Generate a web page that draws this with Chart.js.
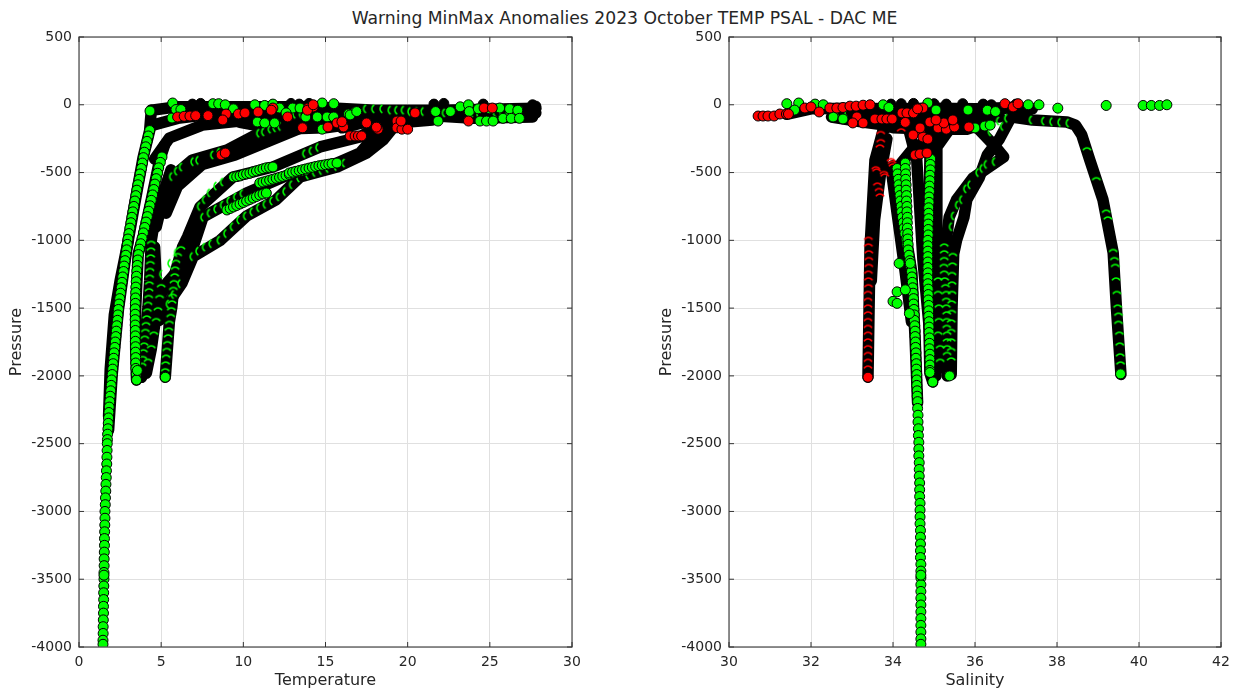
<!DOCTYPE html>
<html>
<head>
<meta charset="utf-8">
<title>Warning MinMax Anomalies</title>
<script src="https://cdn.jsdelivr.net/npm/chart.js@4"></script>
<style>
  html, body { margin: 0; padding: 0; background: #fff; width: 1233px; height: 690px; overflow: hidden; }
  #titulo { position: absolute; left: 0; top: 8px; width: 1249px; text-align: center; font: 17.2px "DejaVu Sans"; color: #262626; }
  canvas { position: absolute; top: 0; }
  #graficoTemp { left: 0; }
  #graficoPsal { left: 650px; }
</style>
</head>
<body>
<div id="titulo">Warning MinMax Anomalies 2023 October TEMP PSAL - DAC ME</div>
<canvas id="graficoTemp" width="600" height="690"></canvas>
<canvas id="graficoPsal" width="583" height="690"></canvas>
<script>
const tempTicks = [0, 5, 10, 15, 20, 25, 30]
const psalTicks = [30, 32, 34, 36, 38, 40, 42]
const presTicks = [500, 0, -500, -1000, -1500, -2000, -2500, -3000, -3500, -4000]

// temperature: black profile bands [T, P]
const tempDeep = [[4.4,-40],[4.3,-190],[3.9,-390],[3.3,-790],[2.9,-1070],[2.4,-1510],[2.02,-1990],[1.8,-2400]]
const tempDeep2 = [[3.0,-1000],[2.5,-1300],[2.15,-1550],[1.9,-1950],[1.8,-2300]]
const tempBand2 = [[5.2,-300],[4.9,-410],[4.4,-700],[3.9,-975],[3.6,-1100],[3.45,-1500],[3.45,-1800],[3.5,-2030]]
const tempBand3 = [[5.6,-480],[5.0,-700],[4.6,-850],[4.4,-1000],[4.3,-1300],[4.2,-1490],[4.0,-1750],[3.8,-2010]]
const tempBand3b = [[4.6,-1050],[4.7,-1300],[4.75,-1500],[4.4,-1800],[4.1,-1980]]
const tempC1 = [[4.7,-900],[5.1,-700],[5.7,-530],[6.9,-407],[9.0,-334],[11,-208],[13,-134],[15.1,-90]]
const tempC1b = [[5.3,-800],[6.0,-600],[7.5,-440],[9.5,-370],[11.5,-270],[13.5,-170],[15.5,-120]]
const tempC2 = [[5.25,-2010],[5.5,-1600],[5.65,-1490],[5.85,-1240],[6.3,-1050],[6.6,-975],[7.36,-754],[9.37,-533],[11.8,-459],[14.67,-311],[17.1,-238],[18.5,-130],[20,-90]]
const tempC3 = [[3.8,-2010],[4.5,-1515],[5.35,-1315],[6.75,-1120],[7.55,-828],[10.2,-651],[13,-503],[15.7,-430],[17.1,-356],[18,-230],[19,-120]]
const tempC5 = [[4.9,-1590],[5.35,-1480],[6.27,-1315],[6.95,-1120],[8.6,-1000],[10.2,-820],[12,-700],[13.45,-533],[15.7,-459],[17.5,-356],[18.5,-260],[19.35,-134],[21.5,-112]]
const tempTop1 = [[4.4,-40],[6,-15],[10,-15],[14,-15],[18,-40],[22,-40],[27.8,-25]]
const tempTop2 = [[4.6,-400],[5.5,-245],[7.5,-150],[9.8,-120],[12,-110],[15,-80]]
const tempTop3 = [[4.5,-150],[6,-100],[8,-70],[12,-60],[16,-50],[20,-70],[24,-100],[27.6,-90]]
const tempTop4 = [[16,-170],[18,-110],[20,-80],[23,-70],[27.8,-60]]
const tempTop5 = [[9.8,-130],[12,-180],[15,-170],[18,-120]]
const tempTop6 = [[10,-80],[14,-110],[17,-100],[20,-110]]

// temperature: green chains, shallow to deep
const tempChainA = [[4.3,-190],[4.22,-230],[4.14,-270],[4.06,-310],[3.98,-350],[3.92,-390],[3.86,-430],[3.8,-470],[3.72,-510],[3.66,-550],[3.58,-590],[3.52,-630],[3.46,-670],[3.4,-710],[3.34,-750],[3.28,-790],[3.22,-830],[3.16,-870],[3.1,-910],[3.04,-950],[2.98,-990],[2.94,-1030],[2.9,-1070],[2.85,-1110],[2.8,-1150],[2.75,-1190],[2.71,-1230],[2.66,-1270],[2.62,-1310],[2.57,-1350],[2.53,-1390],[2.48,-1430],[2.44,-1470],[2.4,-1510],[2.37,-1550],[2.34,-1590],[2.3,-1630],[2.27,-1670],[2.24,-1710],[2.21,-1750],[2.18,-1790],[2.14,-1830],[2.11,-1870],[2.08,-1910],[2.05,-1950],[2.02,-1990],[1.99,-2030],[1.96,-2070],[1.93,-2110],[1.9,-2150],[1.87,-2190],[1.84,-2230],[1.82,-2270],[1.8,-2310],[1.78,-2350],[1.76,-2390],[1.74,-2430],[1.73,-2470]]
const tempChainDeep = [[1.72,-2500],[1.71,-2550],[1.7,-2600],[1.69,-2650],[1.67,-2700],[1.66,-2750],[1.64,-2800],[1.63,-2850],[1.61,-2900],[1.6,-2950],[1.58,-3000],[1.58,-3050],[1.57,-3100],[1.56,-3150],[1.55,-3200],[1.55,-3250],[1.54,-3300],[1.53,-3350],[1.53,-3400],[1.52,-3450],[1.52,-3500],[1.51,-3550],[1.5,-3600],[1.5,-3650],[1.49,-3700],[1.49,-3750],[1.48,-3800],[1.47,-3850],[1.47,-3900],[1.46,-3950]]
const tempChainB = [[5.05,-385],[4.95,-425],[4.85,-465],[4.78,-505],[4.7,-545],[4.62,-585],[4.55,-625],[4.48,-665],[4.4,-705],[4.32,-745],[4.24,-785],[4.16,-825],[4.08,-865],[4.0,-905],[3.92,-945],[3.84,-985],[3.76,-1025],[3.68,-1065],[3.62,-1105],[3.58,-1145],[3.55,-1185],[3.52,-1225],[3.5,-1265],[3.48,-1305],[3.46,-1345],[3.45,-1385],[3.44,-1425],[3.43,-1465],[3.42,-1505],[3.42,-1545],[3.42,-1585],[3.42,-1625],[3.43,-1665],[3.43,-1705],[3.43,-1745],[3.44,-1785],[3.44,-1825],[3.45,-1865],[3.45,-1905],[3.46,-1945],[3.48,-1985],[3.5,-2030]]
const tempChainC = [[9.4,-533],[9.6,-530],[9.8,-525],[10,-515],[10.2,-510],[10.4,-505],[10.6,-495],[10.8,-488],[11,-480],[11.2,-472],[11.4,-465],[11.6,-462],[11.8,-459]]
const tempChainD = [[11,-577],[11.2,-570],[11.4,-563],[11.6,-556],[11.8,-549],[12,-542],[12.2,-535],[12.4,-528],[12.6,-521],[12.8,-514],[13,-507],[13.2,-500],[13.4,-494],[13.6,-488],[13.8,-483]]
const tempChainE = [[9,-776],[9.2,-765],[9.4,-754],[9.6,-743],[9.8,-732],[10,-721],[10.2,-710],[10.4,-699],[10.6,-688],[10.8,-677],[11,-666],[11.2,-658],[11.4,-651]]
const tempChainF = [[12.8,-503],[13,-497],[13.2,-491],[13.4,-485],[13.6,-479],[13.8,-473],[14,-467],[14.2,-461],[14.4,-455],[14.6,-450],[14.8,-446],[15,-442],[15.2,-438],[15.4,-434],[15.7,-430]]
const tempDots = [[4.32,-46],[5.7,13],[5.66,-98],[5.9,-35],[6.2,-35],[8.15,8],[8.5,8],[8.9,0],[10.7,0],[11.3,-5],[11.8,5],[10.85,-127],[11.3,-134],[11.9,-134],[12.2,-24],[13,-24],[13.45,-24],[14.8,13],[15.5,8],[14.5,-90],[15.1,-90],[15.5,-90],[16.4,-68],[16.8,-53],[21.85,-120],[21.7,-50],[23.2,-15],[23.7,0],[23.75,-50],[24.4,-120],[24.8,-120],[25.2,-120],[26.2,-30],[25.6,-24],[14.8,-180],[16.5,-75],[16.9,-50],[13.8,-90],[12.6,-60],[9.4,-30],[22.6,-50],[24.3,-30],[25,-30],[26.7,-40],[25.8,-100],[26.3,-100],[26.8,-100]]
const tempEnds = [[1.52,-3470],[1.46,-3980],[3.5,-2030],[3.55,-1960],[5.25,-2010]]
const tempBlackDots = [[7.4,10],[12.9,10],[14,10],[13.4,5],[22.2,10],[21.6,5],[27.8,-10],[27.8,-30],[27.6,0],[24.6,5],[6.9,5]]

// temperature: thin green arcs seen inside the black bands
const tempArcsDown = [[4.4,-1030],[4.38,-1080],[4.36,-1130],[4.34,-1180],[4.32,-1230],[4.3,-1280],[4.28,-1330],[4.26,-1380],[4.24,-1430],[4.2,-1480],[4.16,-1530],[4.12,-1580],[4.08,-1630],[4.04,-1680],[4.0,-1730],[3.96,-1780],[3.92,-1830],[3.88,-1880],[3.84,-1930],
  [6.2,-1070],[6.0,-1120],[5.9,-1170],[5.85,-1220],[5.82,-1270],[5.78,-1320],[5.74,-1370],[5.7,-1420],[5.66,-1470],[5.62,-1520],[5.58,-1570],[5.5,-1620],[5.46,-1670],[5.42,-1720],[5.38,-1770],[5.34,-1820],[5.3,-1870],[5.27,-1920],[5.25,-1970],
  [5.0,-1350],[4.9,-1430],[4.8,-1520],[4.7,-1600],[4.55,-1700],[4.4,-1800],[4.2,-1900]]
const tempArcsSide = [[5.7,-530],[6.0,-490],[6.3,-460],[7.0,-420],[7.3,-410],[8.2,-370],[8.6,-350],[11.0,-210],[11.3,-200],[11.7,-180],[12.0,-170],[12.3,-160],
  [7.4,-750],[7.7,-700],[8.0,-650],[8.4,-600],[8.8,-570],[13.8,-360],[14.2,-340],[14.6,-315],
  [7.6,-830],[8.0,-800],[8.4,-770],[8.8,-740],[9.2,-710],[9.6,-680],[10.0,-655],
  [6.95,-1120],[7.3,-1080],[7.7,-1050],[8.1,-1025],[8.6,-1000],[9.0,-950],[9.4,-900],[9.8,-850],[10.2,-820],[10.6,-790],[11.0,-760],[11.4,-735],[11.8,-710],[12.2,-680],[12.6,-640],[13,-590],[13.45,-540],[14,-520],[14.4,-500],[14.8,-485],[15.2,-470],[15.7,-455],[16.2,-430],
  [5.5,-1470],[5.8,-1400],[6.2,-1320],[5.1,-1250],[5.6,-1170],[6.0,-1090],
  [12.8,-80],[13.2,-70],[13.6,-70],[14,-75],[17.5,-30],[18,-30],[18.5,-30],[19,-40],[19.4,-40],[19.8,-40],[20.2,-50],[20.6,-50],[21,-50],[22.3,-60],[24,-60],[24.4,-70],[25.4,-60],[25.8,-60],[26.2,-60],[26.6,-60],[27,-50]]
const tempReds = [[6.0,-90],[6.4,-85],[6.75,-83],[7.1,-80],[7.85,-80],[8.95,-68],[8.75,-112],[9.7,-68],[10.1,-60],[10.9,-53],[11.8,-24],[11.7,-40],[12.7,-90],[13.6,-170],[13.95,-24],[14.25,-16],[13.9,-40],[14.25,0],[15.15,-164],[15.7,-134],[16.1,-164],[16.0,-125],[16.5,-230],[16.8,-230],[17,-230],[17.2,-230],[8.65,-370],[8.9,-356],[17.5,-134],[18.2,-180],[18.1,-165],[19.35,-120],[19.35,-170],[19.65,-180],[20,-180],[19.6,-120],[20.45,-60],[23.7,-120],[24.65,-24],[25.15,-24]]

// salinity: black profile bands [S, P]
const psalDeep = [[34.0,-450],[34.2,-800],[34.37,-1071],[34.46,-1240],[34.54,-1735],[34.6,-2200]]
const psalDeep2 = [[33.95,-460],[34.1,-800],[34.3,-1240],[34.45,-1600]]
const psalBandA = [[34.9,-150],[34.9,-407],[34.85,-1240],[34.9,-1978],[34.97,-2045]]
const psalBandD = [[34.4,-200],[34.58,-410],[34.73,-1145],[34.9,-1700],[35.05,-2000]]
const psalBandE = [[35.4,-170],[35.07,-310],[35.07,-1240],[35.1,-1950]]
const psalBandC = [[35.9,-120],[36.5,-310],[36.7,-385],[35.95,-540],[35.55,-700],[35.37,-830],[35.3,-1000],[35.25,-1240],[35.3,-1490],[35.32,-2000]]
const psalBandC2 = [[36.9,-80],[36.6,-250],[36.3,-370],[36.1,-540],[35.8,-700],[35.73,-830],[35.55,-1000],[35.48,-1100],[35.44,-1490],[35.42,-1990]]
const psalRed = [[34.1,-120],[33.76,-186],[33.56,-410],[33.44,-1050],[33.39,-2010]]
const psalRed2 = [[33.85,-250],[33.7,-500],[33.55,-850],[33.47,-1300]]
const psalMed = [[36.9,-90],[37.4,-112],[38.24,-127],[38.45,-150],[38.6,-220],[38.8,-407],[39.12,-700],[39.37,-1090],[39.45,-1500],[39.56,-1990]]
const psalTop1 = [[31.4,-70],[32,-30],[33,-25],[34,-30],[35,-25],[36,-30],[36.9,-20]]
const psalTop2 = [[32.5,-90],[33.3,-130],[33.8,-150],[34.5,-150],[35.3,-130],[36,-100]]
const psalTop3 = [[36.2,-5],[36.5,-40],[36.9,-20],[37.4,-30]]
const psalTop4 = [[33.8,-100],[34.5,-80],[35.5,-70],[36.6,-90]]
const psalTop5 = [[33,-60],[34,-60],[35,-50],[36,-60],[36.6,-40]]
const psalTop6 = [[34,-170],[35,-180],[35.8,-180],[36.3,-130]]
const psalTop7 = [[34.2,-430],[34.5,-320],[34.85,-260],[35.2,-210],[35.5,-170]]

// salinity: green chains, shallow to deep
const psalChainDeep = [[34.37,-1071],[34.39,-1110],[34.41,-1150],[34.43,-1190],[34.45,-1230],[34.46,-1270],[34.47,-1310],[34.48,-1350],[34.49,-1390],[34.5,-1430],[34.5,-1470],[34.51,-1510],[34.52,-1550],[34.52,-1590],[34.53,-1630],[34.54,-1670],[34.54,-1710],[34.55,-1750],[34.55,-1790],[34.56,-1830],[34.56,-1870],[34.57,-1910],[34.57,-1950],[34.58,-1990],[34.58,-2030],[34.58,-2070],[34.59,-2110],[34.59,-2150],[34.6,-2190],[34.6,-2240],[34.61,-2290],[34.61,-2340],[34.62,-2390],[34.62,-2440],[34.63,-2490],[34.63,-2540],[34.63,-2590],[34.64,-2640],[34.64,-2690],[34.64,-2740],[34.65,-2790],[34.65,-2840],[34.65,-2890],[34.66,-2940],[34.66,-2990],[34.66,-3040],[34.66,-3090],[34.67,-3140],[34.67,-3190],[34.67,-3240],[34.67,-3290],[34.67,-3340],[34.68,-3390],[34.68,-3440],[34.68,-3490],[34.68,-3540],[34.68,-3590],[34.68,-3640],[34.68,-3690],[34.68,-3740],[34.68,-3790],[34.68,-3840],[34.68,-3890],[34.68,-3940]]
const psalChainA = [[34.92,-400],[34.91,-440],[34.91,-480],[34.9,-520],[34.9,-560],[34.89,-600],[34.89,-640],[34.88,-680],[34.88,-720],[34.87,-760],[34.87,-800],[34.87,-840],[34.86,-880],[34.86,-920],[34.86,-960],[34.85,-1000],[34.85,-1040],[34.85,-1080],[34.85,-1120],[34.85,-1160],[34.85,-1200],[34.85,-1240],[34.85,-1280],[34.85,-1320],[34.86,-1360],[34.86,-1400],[34.86,-1440],[34.87,-1480],[34.87,-1520],[34.87,-1560],[34.88,-1600],[34.88,-1640],[34.88,-1680],[34.89,-1720],[34.89,-1760],[34.89,-1800],[34.9,-1840],[34.9,-1880],[34.9,-1920],[34.9,-1960]]
const psalChainB = [[34.3,-430],[34.3,-470],[34.31,-510],[34.31,-550],[34.32,-590],[34.32,-630],[34.33,-670],[34.33,-710],[34.34,-750],[34.34,-790],[34.35,-830],[34.35,-870],[34.35,-910],[34.36,-950],[34.36,-990],[34.37,-1030]]
const psalChainB1 = [[34.1,-470],[34.11,-510],[34.13,-550],[34.14,-590],[34.15,-630],[34.17,-670],[34.18,-710],[34.2,-750],[34.21,-790],[34.23,-830],[34.25,-870],[34.27,-910],[34.29,-950],[34.32,-990],[34.34,-1030]]
const psalDots = [[31.41,8],[31.7,13],[31.6,-39],[32.54,-90],[32.78,-105],[34.85,13],[35.05,-39],[35.83,-39],[36,-171],[36.24,-157],[36.37,-150],[33.76,0],[37.3,0],[37.56,0],[39.2,-5],[38.02,-25],[40.1,-5],[40.3,-5],[40.5,-5],[40.68,0],[34.15,-1170],[34.1,-1380],[34.0,-1450],[34.1,-1465],[34.3,-1365],[34.4,-1540],[34.42,-1170],[34.97,-2045],[34.9,-1975],[35.38,-2000],[36.3,-40],[36.5,-50],[34.68,-3470],[34.68,-3980],[39.55,-1985],[32.1,5],[32.3,0],[33.9,-20]]
const psalBlackDots = [[34.2,8],[34.5,10],[35,8],[35.3,5],[35.7,8],[36.2,5],[36.4,0],[33.95,5],[37,5]]

// salinity: thin arcs
const psalArcsDown = [[35.25,-1050],[35.25,-1100],[35.25,-1150],[35.24,-1200],[35.25,-1250],[35.26,-1300],[35.28,-1350],[35.3,-1400],[35.3,-1450],[35.3,-1500],[35.31,-1550],[35.31,-1600],[35.31,-1650],[35.32,-1700],[35.32,-1750],[35.32,-1800],[35.32,-1850],
  [35.46,-1120],[35.45,-1190],[35.44,-1260],[35.44,-1330],[35.44,-1400],[35.43,-1470],[35.43,-1540],[35.42,-1610],[35.42,-1680],[35.42,-1750],[35.42,-1820],[35.42,-1890],
  [35.1,-1300],[35.1,-1400],[35.12,-1500],[35.12,-1600],[35.1,-1700],[35.15,-1800],[35.15,-1900],
  [38.96,-560],[39.2,-800],[39.24,-850],[39.37,-1090],[39.4,-1150],[39.42,-1200],[39.44,-1300],[39.46,-1400],[39.48,-1500],[39.5,-1560],[39.5,-1620],[39.52,-1700],[39.53,-1780],[39.54,-1860],[39.55,-1920],[38.73,-340]]
const psalArcsSide = [[37.4,-112],[37.7,-120],[37.9,-125],[38.1,-130],[38.3,-135],[35.5,-820],[35.6,-740],[35.45,-900],[35.7,-700],[35.8,-620],[35.9,-590],[36.1,-500],[36.3,-440],[36.5,-420],[36.2,-470],[36.6,-120],[36.8,-100],[36.4,-200],[36.7,-160],[32.7,-60],[32.9,-60]]
const psalRedArcs = [[33.4,-1000],[33.4,-1050],[33.41,-1100],[33.41,-1150],[33.41,-1200],[33.4,-1250],[33.4,-1300],[33.4,-1350],[33.39,-1400],[33.39,-1450],[33.39,-1500],[33.39,-1550],[33.39,-1600],[33.39,-1650],[33.39,-1700],[33.39,-1750],[33.39,-1800],[33.39,-1850],[33.39,-1900],[33.39,-1950],
  [34.0,-459],[33.98,-440],[33.95,-420],[33.8,-533],[33.78,-515],[33.6,-496],[33.58,-480],[33.68,-319],[33.7,-280],[33.68,-680],[33.66,-640],[33.62,-600],[33.7,-220],[34.2,-200],[34.3,-150]]
const psalReds = [[30.71,-83],[30.83,-83],[30.95,-83],[31.1,-83],[31.24,-68],[31.4,-68],[31.45,-68],[31.85,-24],[32.0,-16],[32.2,-53],[32.46,-24],[32.63,-24],[32.78,-20],[32.95,-10],[33.1,-10],[33.27,-3],[33.44,0],[33.12,-90],[33.27,-134],[33.02,-134],[33.56,-105],[33.73,-105],[33.85,-105],[33.98,-105],[34.22,-60],[34.34,-60],[34.5,-60],[34.73,-24],[34.6,-30],[34.66,-200],[34.49,-223],[34.73,-238],[34.85,-253],[34.54,-370],[34.66,-363],[34.83,-356],[34.9,-127],[35.1,-171],[35.3,-180],[35.5,-164],[35.24,-134],[35.85,-164],[35.46,-112],[35.05,-112],[34.66,-171],[34.3,-130],[33.39,-2010],[36.73,8],[36.93,-16],[37.05,8]]

const arcoVerde = criarArco("#00ff00")
const arcoVermelho = criarArco("#ff0000")

// small crescent used for markers almost covered by the next one
function criarArco(cor) {
  const c = document.createElement("canvas")
  c.width = 12
  c.height = 12
  const ctx = c.getContext("2d")
  ctx.strokeStyle = cor
  ctx.lineWidth = 1.6
  ctx.beginPath()
  ctx.arc(6, 7.5, 4.5, Math.PI * 1.15, Math.PI * 1.85)
  ctx.stroke()
  return c
}

function linha(dados) {
  return { data: dados, showLine: true, borderColor: "#000", borderWidth: 11.5, borderCapStyle: "round", borderJoinStyle: "round", pointRadius: 0, tension: 0 }
}

function pontos(dados, cor) {
  return { data: dados, showLine: false, pointStyle: "circle", pointRadius: 5, pointBorderWidth: 1, pointBorderColor: "#000", pointBackgroundColor: cor }
}

function arcos(dados, imagem, giro) {
  return { data: dados, showLine: false, pointStyle: imagem, pointRadius: 4, pointRotation: giro }
}

// frame and inward ticks on the four sides
const moldura = {
  id: "moldura",
  afterDatasetsDraw(chart) {
    const { ctx, chartArea: a, scales } = chart
    ctx.save()
    ctx.strokeStyle = "#555"
    ctx.lineWidth = 1.3
    ctx.strokeRect(a.left, a.top, a.right - a.left, a.bottom - a.top)
    ctx.lineWidth = 1
    ctx.strokeStyle = "#333"
    ctx.beginPath()
    scales.x.ticks.forEach((t, i) => {
      const px = scales.x.getPixelForTick(i)
      ctx.moveTo(px, a.bottom)
      ctx.lineTo(px, a.bottom - 5)
      ctx.moveTo(px, a.top)
      ctx.lineTo(px, a.top + 5)
    })
    scales.y.ticks.forEach((t, i) => {
      const py = scales.y.getPixelForTick(i)
      ctx.moveTo(a.left, py)
      ctx.lineTo(a.left + 5, py)
      ctx.moveTo(a.right, py)
      ctx.lineTo(a.right - 5, py)
    })
    ctx.stroke()
    ctx.restore()
  }
}

function criarGrafico(id, camadas, xTicks, xTitulo, direita) {
  camadas.forEach((c, i) => { c.order = camadas.length - i })
  const fonte = { family: "DejaVu Sans", size: 14 }
  return new Chart(document.getElementById(id), {
    type: "scatter",
    data: { datasets: camadas },
    plugins: [moldura],
    options: {
      responsive: false,
      animation: false,
      layout: { padding: { top: 37, right: direita, left: 0, bottom: 0 } },
      plugins: { legend: { display: false }, title: { display: false }, tooltip: { enabled: false } },
      scales: {
        x: {
          type: "linear",
          min: xTicks[0],
          max: xTicks[xTicks.length - 1],
          afterBuildTicks: s => { s.ticks = xTicks.map(v => ({ value: v })) },
          afterFit: s => { s.height = 43; s.paddingRight = 0; s.paddingLeft = 0 },
          border: { display: false },
          grid: { color: "#e0e0e0", lineWidth: 1, drawTicks: false },
          ticks: { color: "#262626", font: fonte, padding: 7, maxRotation: 0, callback: v => String(v) },
          title: { display: true, text: xTitulo, color: "#262626", font: { family: "DejaVu Sans", size: 16 }, padding: { top: 3, bottom: 0 } }
        },
        y: {
          type: "linear",
          min: -4000,
          max: 500,
          afterBuildTicks: s => { s.ticks = presTicks.map(v => ({ value: v })) },
          afterFit: s => { s.width = 79 },
          border: { display: false },
          grid: { color: "#e0e0e0", lineWidth: 1, drawTicks: false },
          ticks: { color: "#262626", font: fonte, padding: 7, callback: v => String(v) },
          title: { display: true, text: "Pressure", color: "#262626", font: { family: "DejaVu Sans", size: 16 }, padding: { top: 7, bottom: 0 } }
        }
      }
    }
  })
}

const camadasTemp = [
  linha(tempDeep), linha(tempDeep2), linha(tempBand2), linha(tempBand3), linha(tempBand3b),
  linha(tempC1), linha(tempC1b), linha(tempC2), linha(tempC3), linha(tempC5),
  linha(tempTop1), linha(tempTop2), linha(tempTop3), linha(tempTop4), linha(tempTop5), linha(tempTop6),
  pontos(tempBlackDots, "#000"),
  arcos(tempArcsDown, arcoVerde, 0), arcos(tempArcsSide, arcoVerde, -90),
  pontos(tempChainA, "#00ff00"), pontos(tempChainDeep, "#00ff00"), pontos(tempChainB, "#00ff00"),
  pontos(tempChainC, "#00ff00"), pontos(tempChainD, "#00ff00"), pontos(tempChainE, "#00ff00"), pontos(tempChainF, "#00ff00"),
  pontos(tempDots, "#00ff00"), pontos(tempEnds, "#00ff00"), pontos(tempReds, "#ff0000")
]

const camadasPsal = [
  linha(psalDeep), linha(psalDeep2), linha(psalBandA), linha(psalBandD), linha(psalBandE),
  linha(psalBandC), linha(psalBandC2), linha(psalRed), linha(psalRed2), linha(psalMed),
  linha(psalTop1), linha(psalTop2), linha(psalTop3), linha(psalTop4), linha(psalTop5), linha(psalTop6), linha(psalTop7),
  pontos(psalBlackDots, "#000"),
  arcos(psalArcsDown, arcoVerde, 0), arcos(psalArcsSide, arcoVerde, -90), arcos(psalRedArcs, arcoVermelho, 0),
  pontos(psalChainB1, "#00ff00"), pontos(psalChainB, "#00ff00"), pontos(psalChainDeep, "#00ff00"), pontos(psalChainA, "#00ff00"),
  pontos(psalDots, "#00ff00"), pontos(psalReds, "#ff0000")
]

criarGrafico("graficoTemp", camadasTemp, tempTicks, "Temperature", 28)
criarGrafico("graficoPsal", camadasPsal, psalTicks, "Salinity", 12)
</script>
</body>
</html>
